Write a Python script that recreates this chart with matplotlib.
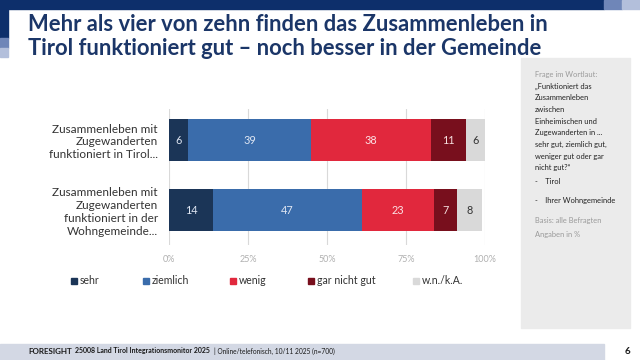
import matplotlib
matplotlib.use("Agg")
import matplotlib.pyplot as plt
from matplotlib.patches import Rectangle

plt.rcParams['font.family'] = ['Lato', 'DejaVu Sans']

categories = ["Zusammenleben mit\nZugewanderten\nfunktioniert in Tirol...",
              "Zusammenleben mit\nZugewanderten\nfunktioniert in der\nWohngemeinde..."]
series_names = ["sehr", "ziemlich", "wenig", "gar nicht gut", "w.n./k.A."]
values = {
    "sehr": [6, 14],
    "ziemlich": [39, 47],
    "wenig": [38, 23],
    "gar nicht gut": [11, 7],
    "w.n./k.A.": [6, 8],
}
colors = {"sehr": "#1b3557", "ziemlich": "#3a6cab", "wenig": "#e1283d",
          "gar nicht gut": "#780f1d", "w.n./k.A.": "#d9d9d9"}
text_colors = {"sehr": "#dfe6f2", "ziemlich": "#dfe6f2", "wenig": "#fbe3e6",
               "gar nicht gut": "#f5dede", "w.n./k.A.": "#333333"}
xticks = [0, 25, 50, 75, 100]
xticklabels = ["0%", "25%", "50%", "75%", "100%"]

title = "Mehr als vier von zehn finden das Zusammenleben in\nTirol funktioniert gut \u2013 noch besser in der Gemeinde"

W, H = 640, 360
fig = plt.figure(figsize=(6.4, 3.6), dpi=100)

def px(x, y, w, h):
    return [x / W, 1 - (y + h) / H, w / W, h / H]

# decorative frame
navy = "#0d2f6b"
fig.patches.append(Rectangle((0, 1 - 9 / H), 604 / W, 9 / H, transform=fig.transFigure, color=navy, zorder=0))
fig.patches.append(Rectangle((604 / W, 1 - 9 / H), 18 / W, 9 / H, transform=fig.transFigure, color="#6f86b8", zorder=0))
fig.patches.append(Rectangle((622 / W, 1 - 9 / H), 18 / W, 9 / H, transform=fig.transFigure, color="#b3bfdb", zorder=0))
fig.patches.append(Rectangle((0, 1 - 38 / H), 8 / W, 38 / H, transform=fig.transFigure, color=navy, zorder=0))
fig.patches.append(Rectangle((0, 1 - 48 / H), 8 / W, 10 / H, transform=fig.transFigure, color="#6f86b8", zorder=0))
fig.patches.append(Rectangle((0, 1 - 57 / H), 8 / W, 9 / H, transform=fig.transFigure, color="#b3bfdb", zorder=0))

fig.text(28 / W, 1 - 14 / H, title, ha="left", va="top", fontsize=15.8,
         fontweight="bold", color="#1b3668", linespacing=1.18)

# right info panel
fig.patches.append(Rectangle((521 / W, 1 - 328 / H), 109 / W, 270 / H, transform=fig.transFigure, color="#ebebeb", zorder=0))
panel_gray = "#9a9a9a"
fig.text(535 / W, 1 - 74 / H, "Frage im Wortlaut:", fontsize=5.4, color=panel_gray, va="center")
q_lines = ["\u201eFunktioniert das", "Zusammenleben", "zwischen", "Einheimischen und",
           "Zugewanderten in ...", "sehr gut, ziemlich gut,", "weniger gut oder gar", "nicht gut?\u201c"]
for i, ln in enumerate(q_lines):
    fig.text(535 / W, 1 - (86 + i * 11.7) / H, ln, fontsize=5.4, color="#222222", va="center")
fig.text(535 / W, 1 - 182 / H, "-    Tirol", fontsize=5.4, color="#222222", va="center")
fig.text(535 / W, 1 - 201 / H, "-    Ihrer Wohngemeinde", fontsize=5.4, color="#222222", va="center")
fig.text(535 / W, 1 - 220 / H, "Basis: alle Befragten", fontsize=5.4, color=panel_gray, va="center")
fig.text(535 / W, 1 - 235 / H, "Angaben in %", fontsize=5.4, color=panel_gray, va="center")

# footer
fig.patches.append(Rectangle((0, 1 - 360 / H), 604 / W, 16 / H, transform=fig.transFigure, color="#d3d8e4", zorder=0))
fig.text(28 / W, 1 - 351 / H, "FORESIGHT", fontsize=5.8, fontweight="bold", color="#1a1a1a", va="center")
fig.text(75 / W, 1 - 351 / H, "25008 Land Tirol Integrationsmonitor 2025", fontsize=5.0, fontweight="bold",
         color="#1a1a1a", va="center")
fig.text(214 / W, 1 - 351 / H, "| Online/telefonisch, 10/11 2025 (n=700)", fontsize=4.8, color="#1a1a1a", va="center")
fig.text(627 / W, 1 - 351 / H, "6", fontsize=7, fontweight="bold", color="#1a1a1a", va="center", ha="center")

# chart
ax = fig.add_axes(px(169, 108.5, 316, 136.5))
ypos = list(range(len(categories)))
left = [0] * len(categories)
for s in series_names:
    vals = values[s]
    ax.barh(ypos, vals, left=left, height=0.6, color=colors[s], zorder=3)
    for yi, (l, v) in enumerate(zip(left, vals)):
        ax.text(l + v / 2, yi, str(v), ha="center", va="center", fontsize=7.8,
                color=text_colors[s], zorder=4)
    left = [l + v for l, v in zip(left, vals)]

ax.set_xlim(0, 100)
ax.set_ylim(1.5, -0.45)
ax.set_xticks(xticks)
ax.set_xticklabels(xticklabels, fontsize=6.5, color="#b0b0b0")
ax.set_yticks(ypos)
ax.set_yticklabels(categories, fontsize=8.5, color="#333333", linespacing=1.2)
ax.tick_params(axis="both", length=0)
ax.tick_params(axis="x", pad=7)
ax.tick_params(axis="y", pad=8)
for sp in ax.spines.values():
    sp.set_visible(False)
ax.grid(axis="x", color="#d9d9d9", linewidth=0.8, zorder=0)
ax.set_axisbelow(True)

# legend
leg_x = [71, 143, 230, 308, 413]
for s, lx in zip(series_names, leg_x):
    fig.patches.append(Rectangle((lx / W, 1 - 284 / H), 6 / W, 6 / H, transform=fig.transFigure,
                                 color=colors[s], zorder=3))
    fig.text((lx + 9) / W, 1 - 281 / H, s, fontsize=7.6, color="#333333", va="center", ha="left")

fig.savefig("out.png", dpi=100)
